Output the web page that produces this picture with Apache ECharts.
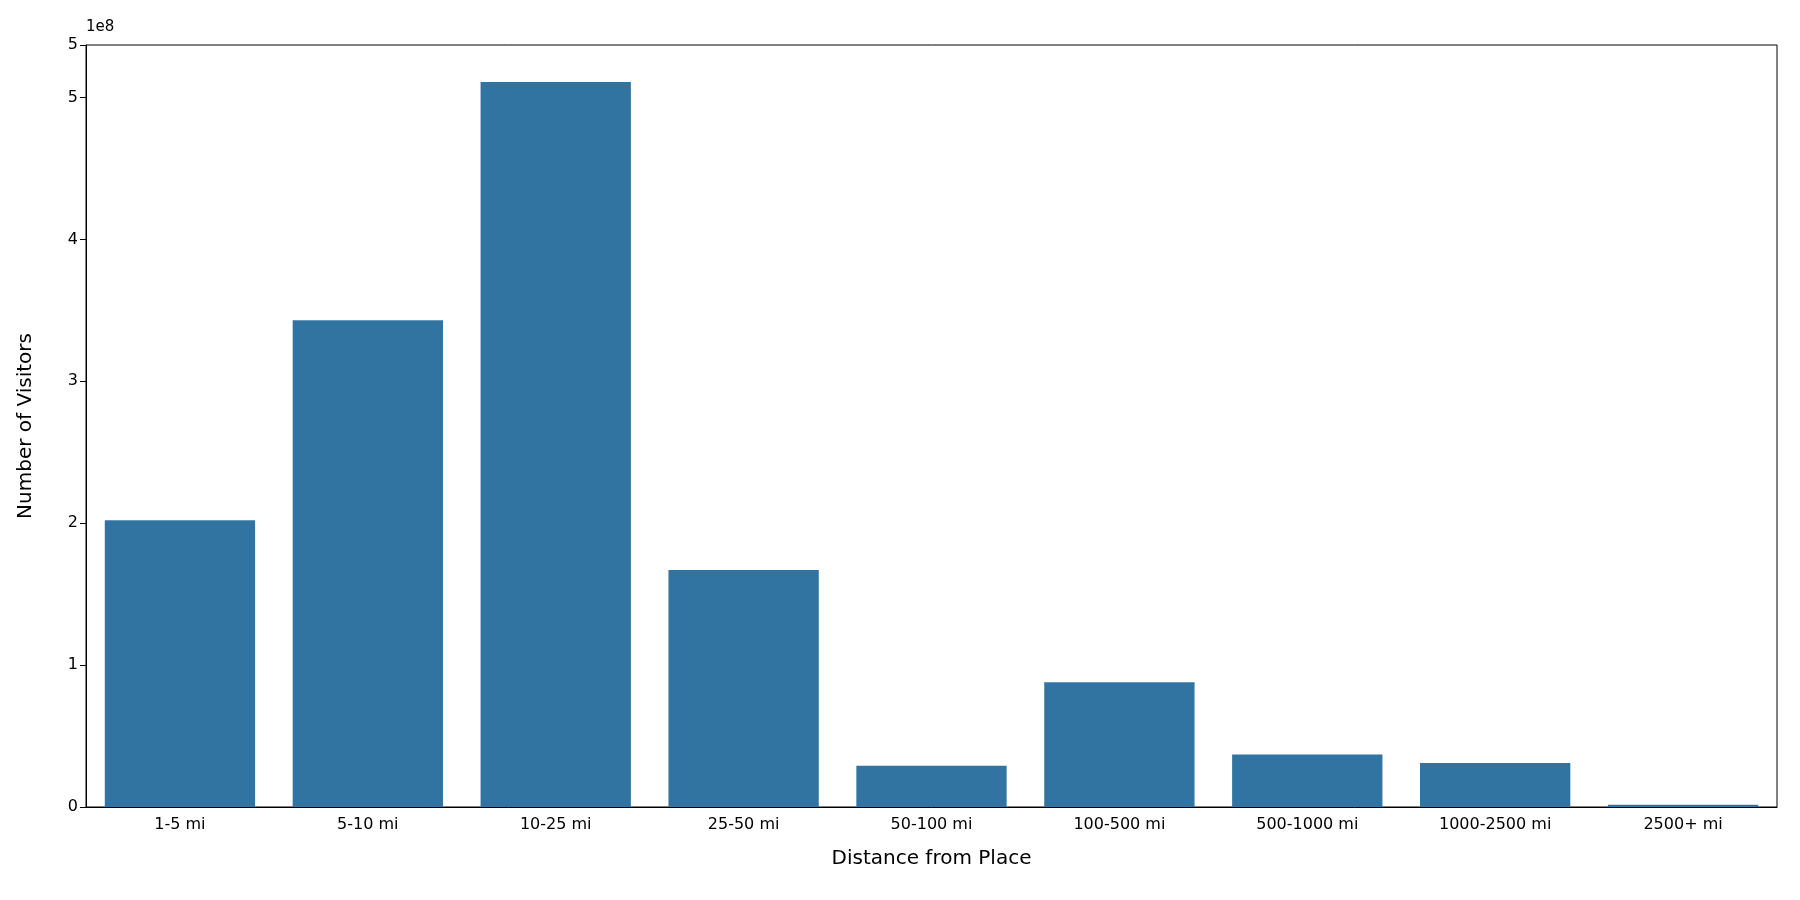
<!DOCTYPE html>
<html>
<head>
<meta charset="utf-8">
<script src="https://cdn.jsdelivr.net/npm/echarts@6/dist/echarts.min.js"></script>
<style>html,body{margin:0;padding:0;background:#fff}#main{width:1800px;height:900px}</style>
</head>
<body>
<div id="main"></div>
<script>
var categories = ['1-5 mi', '5-10 mi', '10-25 mi', '25-50 mi', '50-100 mi', '100-500 mi', '500-1000 mi', '1000-2500 mi', '2500+ mi'];
var visitors = [2.02e8, 3.43e8, 5.11e8, 1.67e8, 0.29e8, 0.88e8, 0.37e8, 0.31e8, 0.015e8];

var chart = echarts.init(document.getElementById('main'));
var font = 'DejaVu Sans';
chart.setOption({
    animation: false,
    textStyle: {fontFamily: font},
    grid: {left: 86, right: 23, top: 45, bottom: 93},
    graphic: [{type: 'text', left: 86, top: 20, style: {text: '1e8', font: '15px DejaVu Sans', fill: '#000'}}],
    xAxis: {
        type: 'category',
        data: categories,
        name: 'Distance from Place',
        nameLocation: 'middle',
        nameGap: 42,
        nameTextStyle: {fontSize: 20, color: '#000'},
        axisLine: {lineStyle: {color: '#000'}},
        axisTick: {alignWithLabel: true, length: 6, lineStyle: {color: '#000'}},
        axisLabel: {fontSize: 16, color: '#000', margin: 10}
    },
    yAxis: {
        type: 'value',
        min: 0,
        max: 5.37e8,
        interval: 1e8,
        name: 'Number of Visitors',
        nameLocation: 'middle',
        nameGap: 50,
        nameTextStyle: {fontSize: 20, color: '#000'},
        splitLine: {show: false},
        axisLine: {show: true, lineStyle: {color: '#000'}},
        axisTick: {show: true, length: 6, lineStyle: {color: '#000'}},
        axisLabel: {fontSize: 16, color: '#000', formatter: function (v) { return String(Math.round(v / 1e8)); }}
    },
    series: [{
        type: 'bar',
        data: visitors,
        barWidth: '80%',
        itemStyle: {color: '#3274a1'}
    }]
});
// box around the plot
chart.setOption({
    graphic: [
        {type: 'text', left: 86, top: 20, style: {text: '1e8', font: '15px DejaVu Sans', fill: '#000'}},
        {type: 'rect', shape: {x: 86, y: 45, width: 1800 - 86 - 23, height: 900 - 45 - 93}, style: {fill: 'none', stroke: '#000', lineWidth: 1}, silent: true}
    ]
});
</script>
</body>
</html>
